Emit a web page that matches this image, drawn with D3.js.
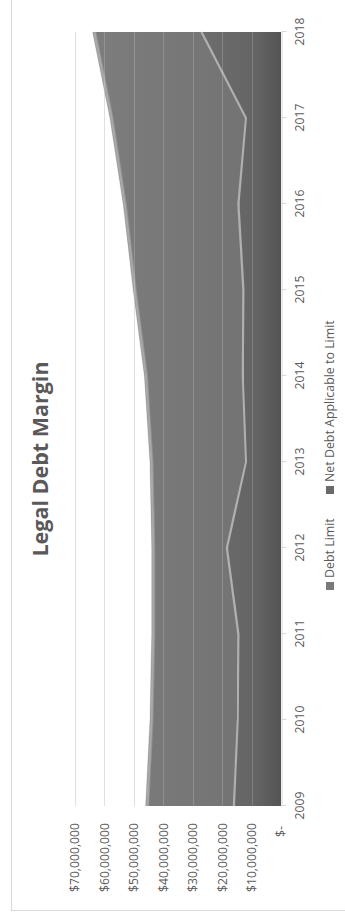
<!DOCTYPE html>
<html>
<head>
<meta charset="utf-8">
<script src="https://cdn.jsdelivr.net/npm/d3@7"></script>
<style>
  html, body { margin: 0; padding: 0; background: #ffffff; }
  svg { display: block; }
  text { font-family: "Open Sans", "Liberation Sans", sans-serif; fill: #595959; }
</style>
</head>
<body>
<svg id="chart" width="345" height="915"></svg>
<script>
// Fiscal years on the category axis
const years = ["2009", "2010", "2011", "2012", "2013", "2014", "2015", "2016", "2017", "2018"];
// Statutory debt limit, dollars
const debtLimit = [46.0e6, 44.5e6, 43.9e6, 43.9e6, 44.5e6, 46.4e6, 50.2e6, 53.6e6, 58.1e6, 64.0e6];
// Net debt applicable to the limit, dollars
const netDebt = [16.0e6, 14.7e6, 14.5e6, 18.4e6, 11.9e6, 13.0e6, 12.8e6, 14.5e6, 11.9e6, 27.0e6];
// Value axis ticks
const valueTicks = [0, 10e6, 20e6, 30e6, 40e6, 50e6, 60e6, 70e6];
const seriesNames = ["Debt Limit", "Net Debt Applicable to Limit"];
const titleText = "Legal Debt Margin";

const PAGE_H = 915;
const svg = d3.select("#chart");

// The chart is laid out landscape (915 wide, 345 tall) and turned a quarter turn.
const g = svg.append("g").attr("transform", `translate(0,${PAGE_H}) rotate(-90)`);

const plot = { left: 109, right: 883, top: 75, bottom: 281 };

const x = d3.scalePoint().domain(years).range([plot.left, plot.right]);
const y = d3.scaleLinear().domain([0, 70e6]).range([plot.bottom, plot.top]);

const defs = svg.append("defs");
const gradLimit = defs.append("linearGradient").attr("id", "gLimit")
  .attr("gradientUnits", "userSpaceOnUse")
  .attr("x1", 0).attr("y1", plot.top).attr("x2", 0).attr("y2", plot.bottom);
gradLimit.append("stop").attr("offset", "0%").attr("stop-color", "#7e7e7e");
gradLimit.append("stop").attr("offset", "100%").attr("stop-color", "#717171");

const gradNet = defs.append("linearGradient").attr("id", "gNet")
  .attr("gradientUnits", "userSpaceOnUse")
  .attr("x1", 0).attr("y1", y(28e6)).attr("x2", 0).attr("y2", plot.bottom);
gradNet.append("stop").attr("offset", "0%").attr("stop-color", "#6e6e6e");
gradNet.append("stop").attr("offset", "70%").attr("stop-color", "#646464");
gradNet.append("stop").attr("offset", "100%").attr("stop-color", "#545454");

const soft = defs.append("filter").attr("id", "soft")
  .attr("x", "-5%").attr("y", "-5%").attr("width", "110%").attr("height", "110%");
soft.append("feGaussianBlur").attr("stdDeviation", 0.7);

// Chart area border
g.append("rect")
  .attr("x", 4.5).attr("y", 11.5)
  .attr("width", 960).attr("height", 360)
  .attr("fill", "none").attr("stroke", "#d9d9d9").attr("stroke-width", 1);

// Gridlines behind the areas
g.append("g").selectAll("line").data(valueTicks.filter(v => v > 0)).join("line")
  .attr("x1", plot.left).attr("x2", plot.right)
  .attr("y1", d => Math.round(y(d)) + 0.5).attr("y2", d => Math.round(y(d)) + 0.5)
  .attr("stroke", "#d9d9d9").attr("stroke-width", 1);

const data = years.map((yr, i) => ({ yr, limit: debtLimit[i], net: netDebt[i] }));

const areaLimit = d3.area().x(d => x(d.yr)).y0(y(0)).y1(d => y(d.limit));
const areaNet = d3.area().x(d => x(d.yr)).y0(y(0)).y1(d => y(d.net));
const lineLimit = d3.line().x(d => x(d.yr)).y(d => y(d.limit));
const lineNet = d3.line().x(d => x(d.yr)).y(d => y(d.net));

g.append("path").datum(data).attr("d", areaLimit).attr("fill", "url(#gLimit)");
g.append("path").datum(data).attr("d", lineLimit)
  .attr("fill", "none").attr("stroke", "#a9a9a9").attr("stroke-width", 3)
  .attr("transform", "translate(0,1.5)").attr("filter", "url(#soft)");

g.append("path").datum(data).attr("d", areaNet).attr("fill", "url(#gNet)");
g.append("path").datum(data).attr("d", lineNet)
  .attr("fill", "none").attr("stroke", "#b0b0b0").attr("stroke-width", 2.2)
  .attr("filter", "url(#soft)");

// Gridlines showing through the areas
g.append("g").selectAll("line").data(valueTicks.filter(v => v > 0)).join("line")
  .attr("x1", plot.left).attr("x2", plot.right)
  .attr("y1", d => Math.round(y(d)) + 0.5).attr("y2", d => Math.round(y(d)) + 0.5)
  .attr("stroke", "#ffffff").attr("stroke-opacity", 0.18).attr("stroke-width", 1);

// Category axis
const xAxis = g.append("g")
  .attr("transform", `translate(0,${plot.bottom + 0.5})`)
  .call(d3.axisBottom(x).tickSize(5).tickPadding(9).tickSizeOuter(0));
xAxis.select(".domain").attr("stroke", "#d9d9d9");
xAxis.selectAll(".tick line").attr("stroke", "#d9d9d9");
xAxis.selectAll(".tick text")
  .style("font-family", "'Open Sans', sans-serif").style("font-size", "12.2px").attr("fill", "#595959");

// Value axis
const fmt = d3.format(",");
const yAxis = g.append("g")
  .attr("transform", `translate(95,0)`)
  .call(d3.axisLeft(y).tickValues(valueTicks).tickSize(0).tickPadding(3)
    .tickFormat(v => v === 0 ? "$-" : "$" + fmt(v)));
yAxis.select(".domain").remove();
yAxis.selectAll(".tick text")
  .style("font-family", "'Open Sans', sans-serif").style("font-size", "12.2px").attr("fill", "#595959")
  .attr("dx", v => v === 0 ? -3 : 0);

// Title
g.append("text")
  .attr("x", 456).attr("y", 47.5)
  .attr("text-anchor", "middle")
  .style("font-size", "21.5px").style("font-weight", "bold")
  .attr("fill", "#595959")
  .text(titleText);

// Legend
const legendItems = [
  { name: seriesNames[0], sx: 325, tx: 337, fill: "#7a7a7a" },
  { name: seriesNames[1], sx: 421, tx: 433, fill: "#6a6a6a" }
];
const leg = g.append("g");
legendItems.forEach(it => {
  leg.append("rect").attr("x", it.sx).attr("y", 326).attr("width", 8).attr("height", 8)
    .attr("fill", it.fill);
  leg.append("text").attr("x", it.tx).attr("y", 330).attr("dy", "0.35em")
    .style("font-size", "12.4px").attr("fill", "#595959").text(it.name);
});
</script>
</body>
</html>
